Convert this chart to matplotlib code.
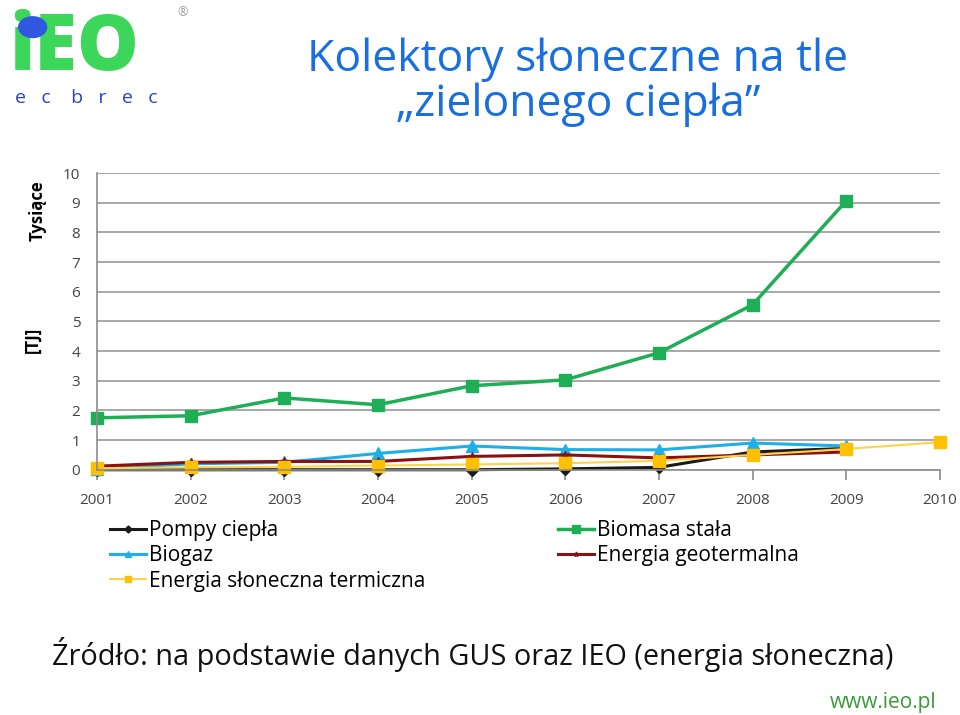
import numpy as np
import matplotlib.pyplot as plt
from matplotlib.patches import Circle

plt.rcParams['font.family'] = ['Open Sans', 'DejaVu Sans']

years = [2001, 2002, 2003, 2004, 2005, 2006, 2007, 2008, 2009, 2010]
years9 = years[:9]

pompy = [0.0, 0.0, 0.0, 0.0, 0.0, 0.03, 0.08, 0.6, 0.72]
biomasa = [1.75, 1.82, 2.42, 2.19, 2.83, 3.03, 3.94, 5.56, 9.06]
biogaz = [0.03, 0.2, 0.25, 0.55, 0.8, 0.68, 0.67, 0.9, 0.8]
geoterm = [0.12, 0.25, 0.28, 0.28, 0.45, 0.5, 0.4, 0.5, 0.6]
sloneczna = [0.05, 0.08, 0.1, 0.14, 0.18, 0.22, 0.3, 0.5, 0.7, 0.93]

fig = plt.figure(figsize=(9.6, 7.15), dpi=100)
ax = fig.add_axes([0.101, 0.343, 0.878, 0.415])

l1, = ax.plot(years9, pompy, color='#1a1a1a', marker='D', markersize=6, lw=2.2, label='Pompy ciepła')
l3, = ax.plot(years9, biogaz, color='#1eaee8', marker='^', markersize=8, lw=2.2, label='Biogaz')
l4, = ax.plot(years9, geoterm, color='#8b1010', marker='*', markersize=6, lw=2.2, label='Energia geotermalna')
l5, = ax.plot(years, sloneczna, color='#ffd24d', marker='s', markersize=8, lw=1.5,
              markerfacecolor='#ffc000', markeredgecolor='#ffc000', label='Energia słoneczna termiczna')
l2, = ax.plot(years9, biomasa, color='#1fae55', marker='s', markersize=9, lw=2.5, label='Biomasa stała')

ax.set_xlim(2001, 2010)
ax.set_ylim(0, 10)
ax.set_yticks(range(0, 11))
ax.set_xticks(years)
ax.grid(axis='y', color='#9a9a9a', lw=1.2)
ax.set_axisbelow(True)
for s in ['top', 'right']:
    ax.spines[s].set_visible(False)
for s in ['left', 'bottom']:
    ax.spines[s].set_color('#8c8c8c')
    ax.spines[s].set_linewidth(1.2)
ax.tick_params(axis='x', colors='#8c8c8c', length=7, width=1.2, labelcolor='#444444', labelsize=11, pad=10)
ax.tick_params(axis='y', length=0, labelcolor='#444444', labelsize=11, pad=12)
for ln in [l1, l2, l3, l4, l5]:
    ln.set_clip_on(False)

fig.text(0.039, 0.706, 'Tysiące', rotation=90, ha='center', va='center', fontsize=12, fontweight='bold')
fig.text(0.034, 0.525, '[TJ]', rotation=90, ha='center', va='center', fontsize=12, fontweight='bold')

fig.legend(handles=[l1, l3, l5, l2, l4], ncol=2, loc='upper left', bbox_to_anchor=(0.106, 0.284),
           frameon=False, fontsize=15, handlelength=1.7, handletextpad=0.15, columnspacing=6.4,
           labelspacing=0.2, borderaxespad=0, markerscale=0.6)

# tytuł
fig.text(0.602, 0.917, 'Kolektory słoneczne na tle', ha='center', va='center', fontsize=32, color='#1a6fe0')
fig.text(0.602, 0.853, '\u201ezielonego ciepła\u201d', ha='center', va='center', fontsize=32, color='#1a6fe0')

# logo
fig.text(0.010, 0.902, 'iEO', ha='left', va='baseline', fontsize=56, fontweight='heavy', color='#3cd65a')
fig.patches.append(Circle((0.034, 0.962), 0.0145, transform=fig.transFigure, color='#2f57e0', zorder=5))
fig.text(0.016, 0.856, 'e   c    b   r   e   c', ha='left', va='baseline', fontsize=14, color='#2a3ed0')
fig.text(0.19, 0.983, '®', ha='center', va='center', fontsize=9, color='#999999')

fig.text(0.054, 0.084, 'Źródło: na podstawie danych GUS oraz IEO (energia słoneczna)', ha='left', va='center',
         fontsize=20.8, color='#111111')
fig.text(0.975, 0.017, 'www.ieo.pl', ha='right', va='center', fontsize=15, color='#3a9a3a')

fig.savefig('out.png', dpi=100)
